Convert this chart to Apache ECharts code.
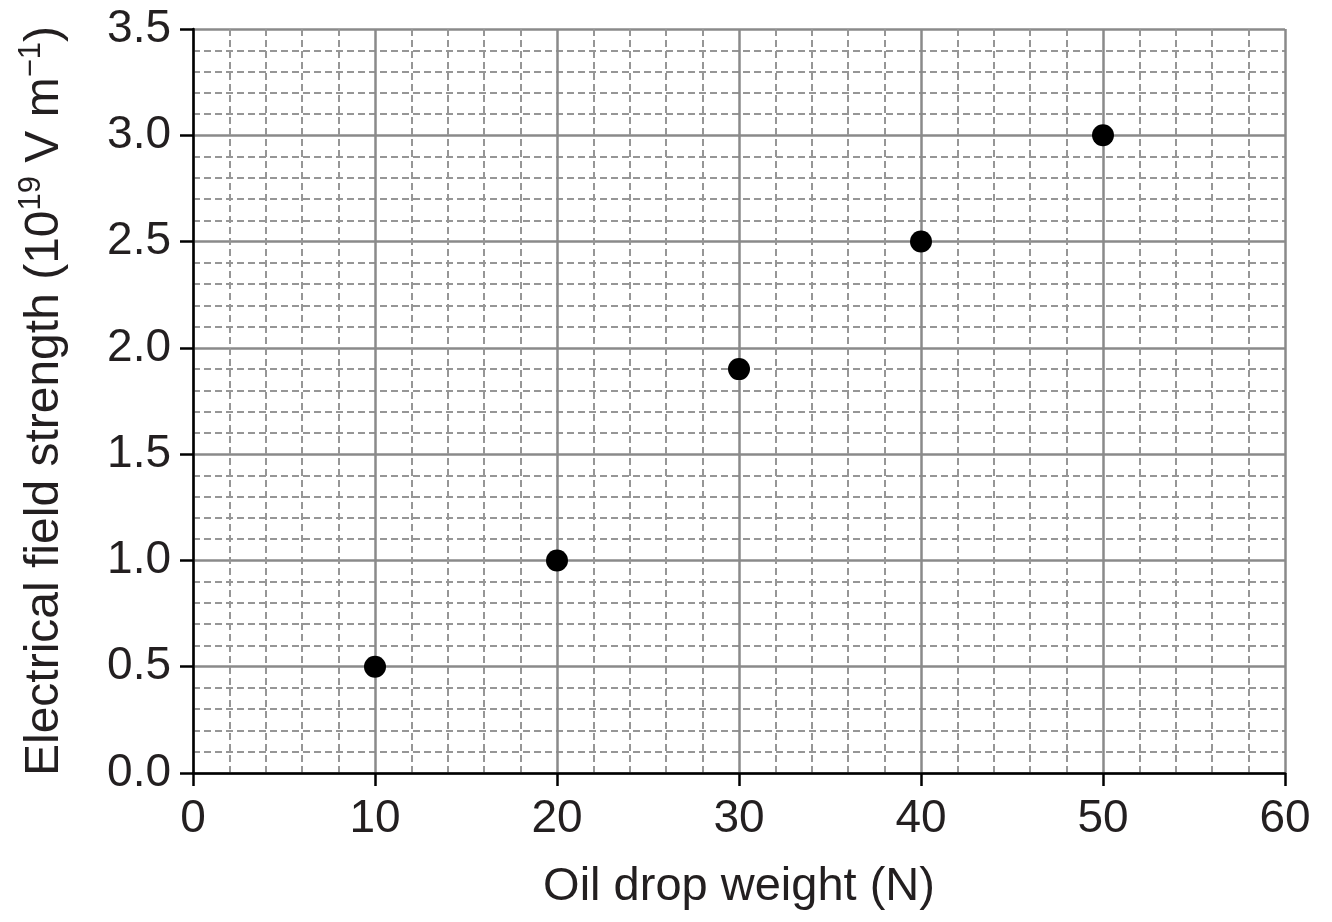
<!DOCTYPE html>
<html>
<head>
<meta charset="utf-8">
<script src="https://cdn.jsdelivr.net/npm/echarts@6/dist/echarts.min.js"></script>
<style>
  html, body {
    margin: 0;
    padding: 0;
    background: #fff;
  }
  #chart {
    width: 1332px;
    height: 922px;
  }
</style>
</head>
<body>
<div id="chart"></div>
<script>
// oil drop weight (N) vs electrical field strength (1e19 V/m)
const weights = [10, 20, 30, 40, 50]
const fieldStrength = [0.5, 1.0, 1.9, 2.5, 3.0]

const chart = echarts.init(document.getElementById('chart'))
const font = '"Liberation Sans", Arial, sans-serif'
const textColor = '#231f20'
const majorLine = {color: '#8a8a8a', width: 2.5}
const minorLine = {color: '#969696', width: 2, type: [7, 4]}

const option = {
  animation: false,
  grid: {
    left: 193,
    right: 47,
    top: 29,
    bottom: 149
  },
  xAxis: {
    type: 'value',
    min: 0,
    max: 60,
    interval: 10,
    name: 'Oil drop weight (N)',
    nameLocation: 'middle',
    nameGap: 91,
    nameTextStyle: {fontFamily: font, fontSize: 47, color: textColor},
    axisLine: {show: true, lineStyle: {color: '#000', width: 2.5}},
    axisTick: {show: true, length: 13, lineStyle: {color: '#000', width: 2.5}},
    axisLabel: {fontFamily: font, fontSize: 46, color: textColor, margin: 23},
    splitLine: {show: true, lineStyle: majorLine},
    minorTick: {show: false, splitNumber: 5},
    minorSplitLine: {show: true, lineStyle: minorLine}
  },
  yAxis: {
    type: 'value',
    min: 0,
    max: 3.5,
    interval: 0.5,
    name: '{n|Electrical field strength (10}{s|19}{n| V m}{s|\u22121}{n|)}',
    nameLocation: 'middle',
    nameRotate: 90,
    nameGap: 124,
    nameTextStyle: {
      rich: {
        n: {fontFamily: font, fontSize: 48, color: textColor, verticalAlign: 'bottom'},
        s: {
          fontFamily: font,
          fontSize: 31,
          lineHeight: 31,
          color: textColor,
          verticalAlign: 'bottom',
          padding: [0, 0, 22, 0]
        }
      }
    },
    axisLine: {show: true, lineStyle: {color: '#000', width: 2.5}},
    axisTick: {show: true, length: 13, lineStyle: {color: '#000', width: 2.5}},
    axisLabel: {
      fontFamily: font,
      fontSize: 46,
      color: textColor,
      margin: 22,
      formatter: v => v.toFixed(1)
    },
    splitLine: {show: true, lineStyle: majorLine},
    minorTick: {show: false, splitNumber: 5},
    minorSplitLine: {show: true, lineStyle: minorLine}
  },
  series: [
    {
      type: 'scatter',
      symbol: 'circle',
      symbolSize: 22,
      itemStyle: {color: '#000', opacity: 1},
      data: weights.map((w, i) => [w, fieldStrength[i]])
    }
  ]
}
chart.setOption(option)
</script>
</body>
</html>
